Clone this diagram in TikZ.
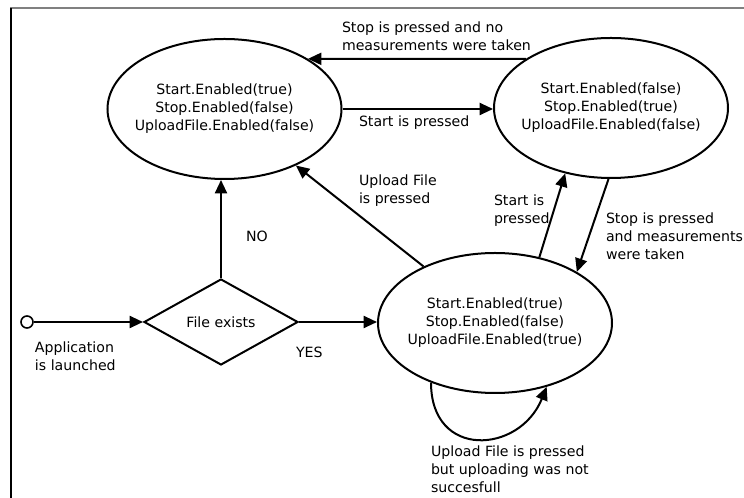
\documentclass[tikz,border=0pt]{standalone}
\usepackage{fontspec}
\setmainfont{DejaVu Sans}
\usetikzlibrary{arrows.meta, positioning, shapes.geometric}
\tikzset{%
	every state/.style={
		ellipse,
		draw,
		inner xsep=-10pt,
		inner ysep=0pt,
		minimum width=175.5pt,
		minimum height=105pt,
		align=center
	},
	decision/.style={
		diamond,
		draw,
		inner sep=0pt,
		minimum width=115.5pt,
		minimum height=64.5pt
	},
	start point/.style={
		circle,
		draw,
		line width=1.2pt,
		inner sep=0pt,
		minimum size=9pt
	},
	edge label/.style={
		anchor=west,
		align=left,
		inner sep=0pt
	},
}
\begin{document}
\begin{tikzpicture}[x=0.75pt, y=-0.75pt, line width=1.5pt, >={Triangle[length=10pt, width=9pt]}, font=\fontsize{10.6}{13.5}\selectfont]

			\useasboundingbox (0,0) rectangle (744,498);
			\draw [gray] (10,8.5) -- (744,8.5);
			\draw [black] (10.5,8) -- (10.5,498);

			\node [every state] (state-1) at (224.5,109) {Start.Enabled(true)\\Stop.Enabled(false)\\UploadFile.Enabled(false)};
			\node [every state] (state-2) at (611,108) {Start.Enabled(false)\\Stop.Enabled(true)\\UploadFile.Enabled(false)};
			\node [every state] (state-3) at (495,323) {Start.Enabled(true)\\Stop.Enabled(false)\\UploadFile.Enabled(true)};
			\node [decision] (check) at (221,322) {File exists};
			\node [start point] (launch) at (27,322) {};

			\draw [->] (launch) -- (check);
			\draw [->] (check.north) -- (check.north |- state-1.south);
			\draw [->] (check.east) -- (check.east -| state-3.west);
			\draw [->] (state-1.east) -- (state-1.east -| state-2.west);
			\draw [->] (state-2.150) -- (state-1.31);
			\draw [->] (state-3) -- (state-1);
			\draw [->] (state-3.56) -- (state-2.235);
			\draw [->] (state-2.268) -- (state-3.32);
			\draw [->] (state-3.223) .. controls +(0,77) and +(-27,67) .. (state-3.309);

			\foreach \n/\x/\y/\t in {
				stop-none/341/36/{Stop is pressed and no\\measurements were taken},
				start-1/358/123/{Start is pressed},
				upload/358/191/{Upload File\\is pressed},
				no/245/236/{NO},
				yes/295/352/{YES},
				launched/34/356/{Application\\is launched},
				start-2/493/211/{Start is\\pressed},
				stop-taken/605/236/{Stop is pressed\\and measurements\\were taken},
				upload-failed/430/469/{Upload File is pressed\\but uploading was not\\succesfull}}
			\node [edge label] (label-\n) at (\x,\y) {\t};

		\end{tikzpicture}
\end{document}
